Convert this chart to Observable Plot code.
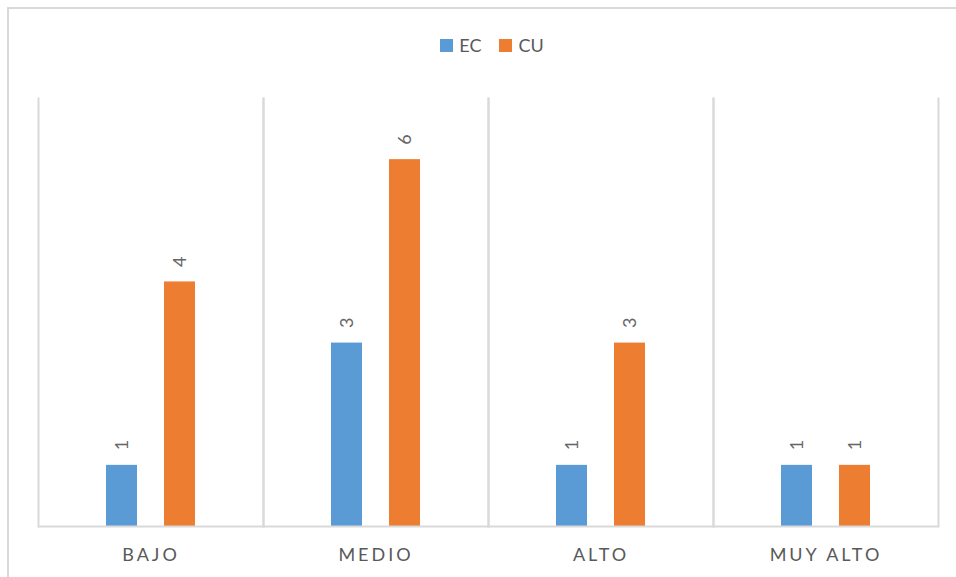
<!DOCTYPE html>
<html>
<head>
<meta charset="utf-8">
<script src="https://cdn.jsdelivr.net/npm/d3@7"></script>
<script src="https://cdn.jsdelivr.net/npm/@observablehq/plot@0.6"></script>
<style>
  body { margin: 0; background: #fff; }
  #chart { position: relative; width: 956px; height: 577px; overflow: hidden; font-family: Lato, "Open Sans", sans-serif; }
  #chart svg { position: absolute; left: 0; top: 0; }
  #border { position: absolute; left: 7px; top: 7px; width: 1000px; height: 1000px; border-left: 2px solid #d9d9d9; border-top: 2px solid #d9d9d9; pointer-events: none; }
  #legend { position: absolute; top: 34px; left: 14px; width: 956px; display: flex; justify-content: center; align-items: center; gap: 18px; font-size: 18px; color: #595959; }
  #legend .item { display: flex; align-items: center; gap: 6px; }
  #legend .sw { width: 13px; height: 13px; display: inline-block; }
</style>
</head>
<body>
<div id="chart">
  <div id="legend"></div>
  <div id="border"></div>
</div>
<script>
// Niveles evaluados y conteos por grupo
const categories = ["BAJO", "MEDIO", "ALTO", "MUY ALTO"];
const series = ["EC", "CU"];
const ecValues = [1, 3, 1, 1];
const cuValues = [4, 6, 3, 1];
const colors = ["#5b9bd5", "#ed7d31"];

const rows = categories.flatMap((c, i) => [
  {category: c, serie: "EC", value: ecValues[i]},
  {category: c, serie: "CU", value: cuValues[i]}
]);

const grid = "#d9d9d9";

const plot = Plot.plot({
  width: 956,
  height: 577,
  marginTop: 98,
  marginBottom: 51,
  marginLeft: 38,
  marginRight: 18,
  style: {fontFamily: "Lato, 'Open Sans', sans-serif", background: "transparent"},
  fx: {domain: categories, padding: 0, label: null},
  x: {domain: series, paddingInner: 0.4655, paddingOuter: 1.172, axis: null},
  y: {domain: [0, 7], axis: null},
  color: {domain: series, range: colors},
  marks: [
    Plot.frame({anchor: "left", stroke: grid, strokeWidth: 2}),
    Plot.frame({anchor: "right", stroke: grid, strokeWidth: 2}),
    Plot.barY(rows, {fx: "category", x: "serie", y: "value", fill: "serie"}),
    Plot.ruleY([0], {stroke: grid, strokeWidth: 2}),
    Plot.text(rows, {
      fx: "category", x: "serie", y: "value",
      text: d => String(d.value),
      rotate: -90, textAnchor: "start", dy: -15,
      fill: "#666666", fontSize: 18
    }),
    Plot.axisFx({anchor: "bottom", tickSize: 0, tickPadding: 22, fontSize: 18, fill: "#595959", label: null})
  ]
});

plot.querySelectorAll('g[aria-label="fx-axis tick label"]').forEach(g => {
  g.style.letterSpacing = "3px";
});

const chart = document.getElementById("chart");
chart.insertBefore(plot, chart.firstChild);

// Leyenda
const legend = d3.select("#legend");
series.forEach((s, i) => {
  const item = legend.append("div").attr("class", "item");
  item.append("span").attr("class", "sw").style("background", colors[i]);
  item.append("span").text(s);
});
</script>
</body>
</html>
